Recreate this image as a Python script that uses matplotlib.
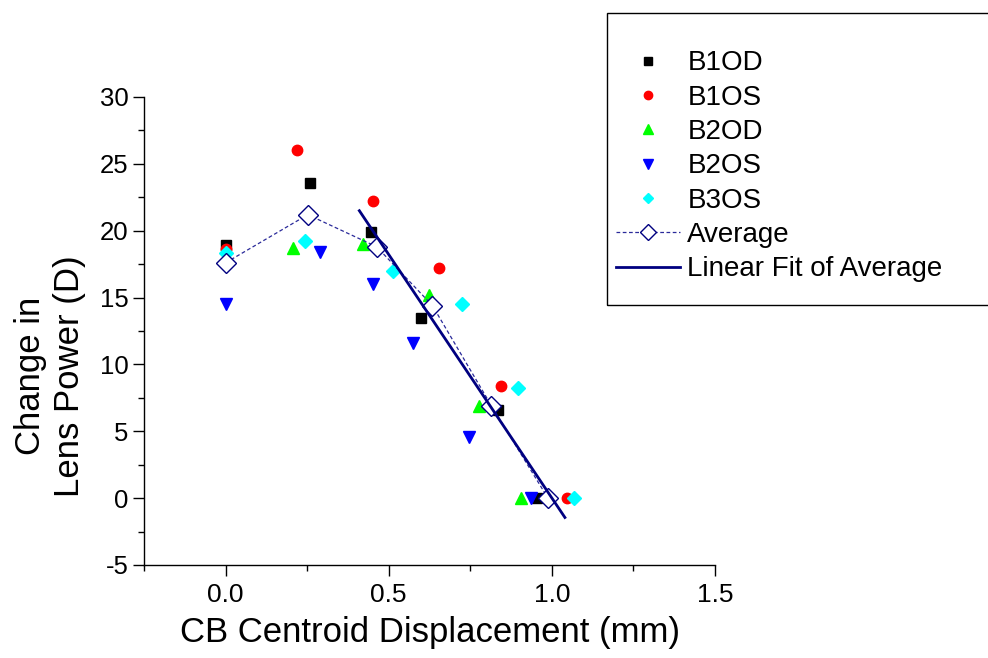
import numpy as np
import matplotlib
matplotlib.use("Agg")
import matplotlib.pyplot as plt
from matplotlib.patches import Rectangle

plt.rcParams['font.family'] = ['Liberation Sans', 'DejaVu Sans']
plt.rcParams['axes.unicode_minus'] = False

# ---- data ----
b1od_x = [0.0, 0.26, 0.445, 0.60, 0.835, 0.955]
b1od_y = [18.9, 23.6, 19.9, 13.5, 6.6, 0.0]
b1os_x = [0.0, 0.218, 0.451, 0.653, 0.845, 1.046]
b1os_y = [18.6, 26.0, 22.2, 17.2, 8.4, 0.0]
b2od_x = [0.208, 0.42, 0.622, 0.776, 0.905]
b2od_y = [18.7, 19.0, 15.2, 6.9, 0.0]
b2os_x = [0.0, 0.29, 0.452, 0.574, 0.745, 0.935]
b2os_y = [14.5, 18.4, 16.0, 11.6, 4.6, 0.0]
b3os_x = [0.0, 0.242, 0.512, 0.724, 0.896, 1.067]
b3os_y = [18.3, 19.2, 17.0, 14.5, 8.2, 0.0]
avg_x = [0.0, 0.252, 0.463, 0.634, 0.815, 0.988]
avg_y = [17.6, 21.2, 18.8, 14.4, 6.9, 0.0]
fit_start_index = 2
fit_range = [0.41, 1.04]
x_ticks = [0.0, 0.5, 1.0, 1.5]
x_ticklabels = ['0.0', '0.5', '1.0', '1.5']
y_ticks = [-5, 0, 5, 10, 15, 20, 25, 30]

navy = '#000080'

fig = plt.figure(figsize=(9.88, 6.58), dpi=100)
ax = fig.add_axes([144/988, 1-565/658, (715-144)/988, (565-97)/658])

ax.plot(b1od_x, b1od_y, ls='none', marker='s', ms=7, color='black', label='B1OD')
ax.plot(b1os_x, b1os_y, ls='none', marker='o', ms=7.5, color='red', label='B1OS')
ax.plot(b2od_x, b2od_y, ls='none', marker='^', ms=9, color='#00ff00', label='B2OD')
ax.plot(b2os_x, b2os_y, ls='none', marker='v', ms=9, color='blue', label='B2OS')
ax.plot(b3os_x, b3os_y, ls='none', marker='D', ms=7, color='cyan', label='B3OS')
ax.plot(avg_x, avg_y, ls=(0, (3, 2)), lw=0.9, color='#2a2a9a', marker='D', ms=10,
        mfc='white', mec=navy, mew=1.0, label='Average')

fx = np.array(avg_x[fit_start_index:])
fy = np.array(avg_y[fit_start_index:])
slope, intercept = np.polyfit(fx, fy, 1)
xx = np.array(fit_range)
ax.plot(xx, slope*xx + intercept, color=navy, lw=2.0, label='Linear Fit of Average')

ax.set_xlim(-0.25, 1.5)
ax.set_ylim(-5, 30)
ax.set_xticks(x_ticks)
ax.set_xticklabels(x_ticklabels)
ax.set_xticks([-0.25, 0.25, 0.75, 1.25], minor=True)
ax.set_yticks(y_ticks)
ax.set_yticks(np.arange(-2.5, 30, 5), minor=True)
for s in ['top', 'right']:
    ax.spines[s].set_visible(False)
for s in ['left', 'bottom']:
    ax.spines[s].set_linewidth(1.0)
ax.tick_params(which='major', direction='out', length=8, width=1.0, labelsize=19, pad=5)
ax.tick_params(axis='y', which='major', labelsize=18.5, pad=3)
ax.tick_params(which='minor', direction='out', length=4, width=1.0)

fig.text(430/988, 1-642/658, 'CB Centroid Displacement (mm)', fontsize=25,
         ha='center', va='baseline')
fig.text(50/988, 1-376/658, 'Change in\nLens Power (D)', fontsize=25, rotation=90,
         ha='center', va='center', multialignment='center', linespacing=1.25)

# legend frame
fig.patches.append(Rectangle((607/988, 1-305/658), (1000-607)/988, (305-13)/658,
                             transform=fig.transFigure, fill=False, ec='black', lw=1.0))
handles, labels = ax.get_legend_handles_labels()
leg = fig.legend(handles, labels, loc='upper left', bbox_to_anchor=(597/988, 1-31/658),
                 frameon=False, fontsize=20, handlelength=2.3, handletextpad=0.25,
                 labelspacing=0.3, markerscale=0.8, borderpad=0.2)

fig.savefig('out.png', dpi=100)
